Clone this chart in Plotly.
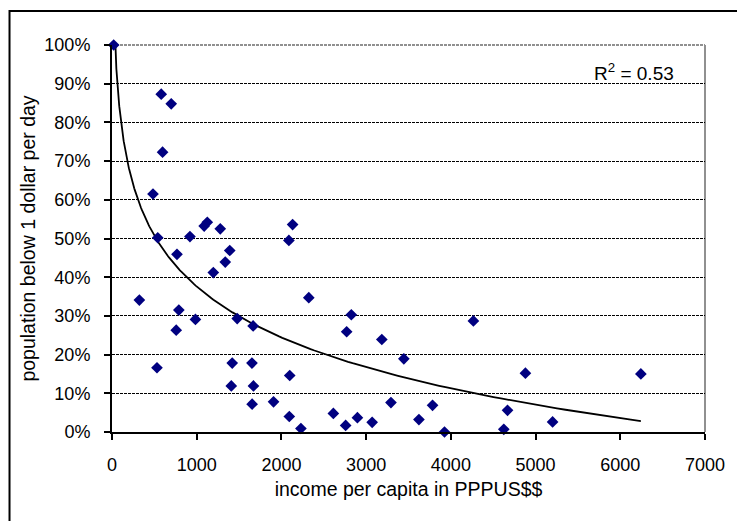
import numpy as np
import plotly.graph_objects as go

# income per capita (PPP US$) and share of population below $1/day (%)
income = [20, 581, 699, 597, 484, 540, 920, 1088, 1125, 1278, 1390, 2088, 2132,
          767, 1337, 1196, 323, 2323, 789, 758, 985, 1478, 1666, 2825, 2770,
          3185, 531, 1419, 1652, 2098, 1408, 1670, 1654, 1907, 3293, 2093,
          2230, 2613, 2758, 2897, 3071, 4266, 3445, 4880, 6243, 3784, 3623,
          3925, 4669, 4625, 5201]
poverty = [100, 87.3, 84.8, 72.3, 61.5, 50.2, 50.5, 53.2, 54.2, 52.5, 46.9, 49.5, 53.6,
           45.9, 43.9, 41.2, 34.1, 34.7, 31.5, 26.3, 29.1, 29.3, 27.4, 30.3, 25.9,
           23.9, 16.6, 17.8, 17.8, 14.6, 11.9, 11.9, 7.2, 7.8, 7.6, 4.0,
           0.9, 4.8, 1.7, 3.7, 2.5, 28.7, 18.9, 15.2, 15.0, 6.9, 3.2,
           0.0, 5.6, 0.7, 2.6]

x_ticks = [0, 1000, 2000, 3000, 4000, 5000, 6000, 7000]
y_ticks = [0, 10, 20, 30, 40, 50, 60, 70, 80, 90, 100]
y_tick_labels = ["0%", "10%", "20%", "30%", "40%", "50%", "60%", "70%", "80%", "90%", "100%"]
r2_label = "R<sup>2</sup> = 0.53"

# logarithmic trendline fitted to the data (least squares on ln x)
xa = np.array(income, dtype=float)
ya = np.array(poverty, dtype=float)
a, b = np.polyfit(np.log(xa), ya, 1)
tx = np.geomspace(xa.min(), xa.max(), 300)
ty = a * np.log(tx) + b

FONT = "Liberation Sans, Arial, sans-serif"

fig = go.Figure()
fig.add_trace(go.Scatter(x=tx, y=ty, mode="lines",
                         line=dict(color="black", width=1.8),
                         hoverinfo="skip", showlegend=False))
fig.add_trace(go.Scatter(x=income, y=poverty, mode="markers",
                         marker=dict(symbol="diamond", size=9, color="#000080",
                                     line=dict(width=0)),
                         cliponaxis=False, showlegend=False))

W, H = 737, 521
ml, mr, mt, mb = 112, 29, 45, 89
pw, ph = W - ml - mr, H - mt - mb

def px_x(p):
    return (p - ml) / pw

def px_y(p):
    return (H - mb - p) / ph

fig.update_layout(
    width=W, height=H,
    margin=dict(l=ml, r=mr, t=mt, b=mb, pad=0),
    paper_bgcolor="white", plot_bgcolor="white",
    font=dict(family=FONT, size=18, color="black"),
    xaxis=dict(range=[0, 7000], tickvals=x_ticks, showgrid=False,
               showline=True, linecolor="black", linewidth=2,
               ticks="outside", ticklen=6, tickwidth=1.5, tickcolor="black",
               zeroline=False, ticklabelstandoff=9,
               title=dict(text="income per capita in PPPUS$$",
                          font=dict(size=19.5), standoff=9)),
    yaxis=dict(range=[0, 100], tickvals=y_ticks, ticktext=y_tick_labels,
               showgrid=True, gridcolor="black", gridwidth=1, griddash="3px,1px",
               showline=True, linecolor="black", linewidth=2,
               ticks="outside", ticklen=6, tickwidth=1.5, tickcolor="black",
               zeroline=False, ticklabelstandoff=10,
               title=dict(text="population below 1 dollar per day",
                          font=dict(size=19.5), standoff=4)),
    shapes=[
        # plot-area top & right border (grey)
        dict(type="line", xref="paper", yref="paper", x0=0, x1=1, y0=1, y1=1,
             line=dict(color="#909090", width=2, dash="3px,1px"), layer="between"),
        dict(type="line", xref="paper", yref="paper", x0=1, x1=1, y0=0, y1=1,
             line=dict(color="#909090", width=2), layer="between"),
        # outer chart frame
        dict(type="rect", xref="paper", yref="paper",
             x0=px_x(9), x1=px_x(760), y0=px_y(540), y1=px_y(11),
             line=dict(color="black", width=2), fillcolor="rgba(0,0,0,0)",
             layer="above"),
    ],
    annotations=[
        dict(text=r2_label, xref="paper", yref="paper",
             x=px_x(679), y=px_y(72), xanchor="right", yanchor="middle",
             showarrow=False, font=dict(size=19)),
    ],
)

fig.write_html("out.html")
